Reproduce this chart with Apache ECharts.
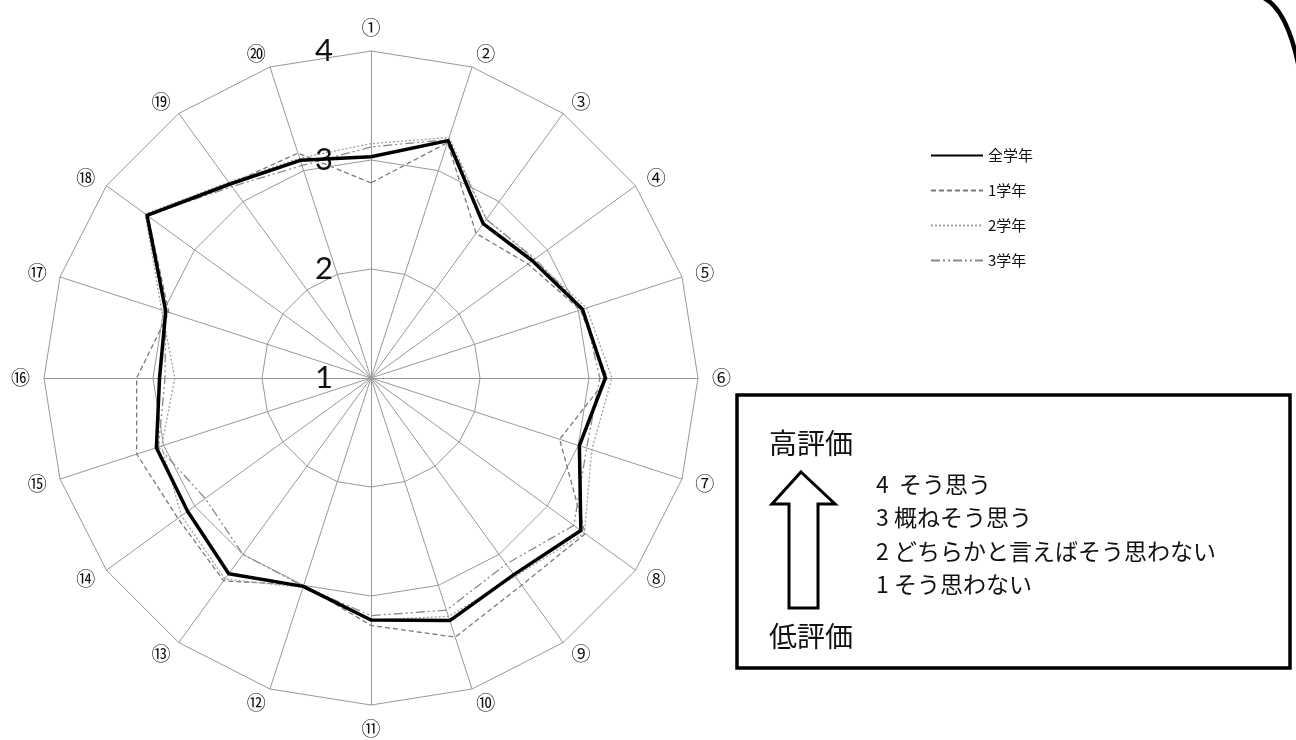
<!DOCTYPE html>
<html>
<head>
<meta charset="utf-8">
<script src="https://cdn.jsdelivr.net/npm/echarts@6/dist/echarts.min.js"></script>
<style>
html,body{margin:0;padding:0;background:#fff;}
#chart{width:1296px;height:740px;}
</style>
</head>
<body>
<div id="chart"></div>
<script>
// Indicator names (clockwise from top)
const indicatorNames = ['①','②','③','④','⑤','⑥','⑦','⑧','⑨','⑩','⑪','⑫','⑬','⑭','⑮','⑯','⑰','⑱','⑲','⑳'];
// Series names
const seriesNames = ['全学年', '1学年', '2学年', '3学年'];
// Values (indicator order ①..⑳)
const allGrades = [3.03, 3.29, 2.75, 2.83, 3.04, 3.15, 3.01, 3.38, 3.23, 3.34, 3.22, 3.01, 3.22, 3.08, 3.07, 2.94, 2.98, 3.54, 3.20, 3.10];
const grade1 = [2.79, 3.27, 2.64, 2.78, 3.02, 3.17, 2.82, 3.43, 3.35, 3.50, 3.27, 3.00, 3.30, 3.19, 3.26, 3.15, 2.95, 3.53, 3.20, 3.17];
const grade2 = [3.15, 3.32, 2.80, 2.85, 3.08, 3.21, 3.13, 3.42, 3.25, 3.30, 3.22, 3.02, 3.28, 3.15, 3.02, 2.80, 3.02, 3.56, 3.22, 3.12];
const grade3 = [3.12, 3.30, 2.80, 2.86, 3.05, 3.10, 3.08, 3.30, 3.11, 3.24, 3.18, 3.01, 3.00, 2.88, 3.05, 2.89, 2.98, 3.54, 3.17, 3.05];
// Scale
const axisMin = 1, axisMax = 4;
// Explanation box text
const highLabel = '高評価';
const lowLabel = '低評価';
const scaleLines = ['4  そう思う', '3 概ねそう思う', '2 どちらかと言えばそう思わない', '1 そう思わない'];

// ECharts radar runs counter-clockwise; reorder so items run clockwise
const order = [0];
for (let i = indicatorNames.length - 1; i >= 1; i--) order.push(i);
const reorder = arr => order.map(i => arr[i]);

const jp = '"Noto Sans CJK JP", "Noto Sans", sans-serif';

const indicators = order.map(i => {
  const o = { name: indicatorNames[i], min: axisMin, max: axisMax };
  if (i === 0) {
    o.axisLabel = { show: true, fontSize: 31, color: '#111', fontFamily: 'Lato, "Open Sans", sans-serif', margin: 38, showMinLabel: true, showMaxLabel: true };
  }
  return o;
});

const styles = {
  '全学年': { color: '#000', width: 3.5, type: 'solid' },
  '1学年': { color: '#7a7a7a', width: 1.3, type: [5, 3] },
  '2学年': { color: '#a0a0a0', width: 1.3, type: [2, 2] },
  '3学年': { color: '#8a8a8a', width: 1.3, type: [9, 3, 2, 3, 2, 3] }
};
const valuesByName = { '全学年': allGrades, '1学年': grade1, '2学年': grade2, '3学年': grade3 };

// legend proxy series (line type for line-style legend icons)
const legendSeries = seriesNames.map(n => ({
  type: 'line', name: n, data: [], symbol: 'none',
  xAxisIndex: 0, yAxisIndex: 0,
  lineStyle: styles[n], itemStyle: { color: 'rgba(0,0,0,0)', opacity: 0 },
  silent: true
}));

const drawOrder = ['1学年', '2学年', '3学年', '全学年'];
const radarSeries = drawOrder.map(n => ({
  type: 'radar', name: n, symbol: 'none', silent: true,
  lineStyle: styles[n], itemStyle: { color: styles[n].color },
  data: [{ value: reorder(valuesByName[n]), name: n }]
}));

const chart = echarts.init(document.getElementById('chart'), null, { renderer: 'canvas' });
chart.setOption({
  animation: false,
  backgroundColor: '#fff',
  grid: { left: 0, top: 0, width: 1, height: 1, show: false },
  xAxis: { type: 'category', show: false, data: [] },
  yAxis: { type: 'value', show: false },
  legend: {
    orient: 'vertical', left: 925, top: 143,
    itemWidth: 52, itemHeight: 14, itemGap: 20,
    data: seriesNames,
    selectedMode: false,
    itemStyle: { opacity: 0 },
    textStyle: { fontSize: 15, color: '#111', fontFamily: jp }
  },
  radar: {
    center: [371, 378], radius: 327, startAngle: 90,
    shape: 'polygon', splitNumber: 3,
    indicator: indicators,
    nameGap: 14,
    axisName: { color: '#111', fontSize: 19, fontWeight: 'normal', fontFamily: jp },
    splitLine: { lineStyle: { color: '#999', width: 1 } },
    splitArea: { show: false },
    axisLine: { lineStyle: { color: '#999', width: 1 } },
    axisTick: { show: false },
    axisLabel: { show: false }
  },
  series: legendSeries.concat(radarSeries),
  graphic: [
    { type: 'bezierCurve', silent: true,
      shape: { x1: 1262, y1: -3, x2: 1299, y2: 68, cpx1: 1287, cpy1: 8 },
      style: { stroke: '#000', lineWidth: 4.5, fill: null } },
    { type: 'rect', silent: true,
      shape: { x: 737, y: 395, width: 553, height: 273 },
      style: { stroke: '#000', lineWidth: 3.5, fill: '#fff' } },
    { type: 'polygon', silent: true,
      shape: { points: [[801, 472], [835, 504], [818, 504], [818, 608], [789, 608], [789, 504], [772, 504]] },
      style: { stroke: '#000', lineWidth: 3, fill: '#fff' } },
    { type: 'text', silent: true, x: 769, y: 443,
      style: { text: highLabel, fontSize: 28, fontFamily: jp, fill: '#111', verticalAlign: 'middle' } },
    { type: 'text', silent: true, x: 769, y: 636,
      style: { text: lowLabel, fontSize: 28, fontFamily: jp, fill: '#111', verticalAlign: 'middle' } }
  ].concat(scaleLines.map((t, k) => ({
    type: 'text', silent: true, x: 876, y: 484 + k * 33.5,
    style: { text: t, fontSize: 23, fontFamily: jp, fill: '#111', verticalAlign: 'middle' }
  })))
});
</script>
</body>
</html>
